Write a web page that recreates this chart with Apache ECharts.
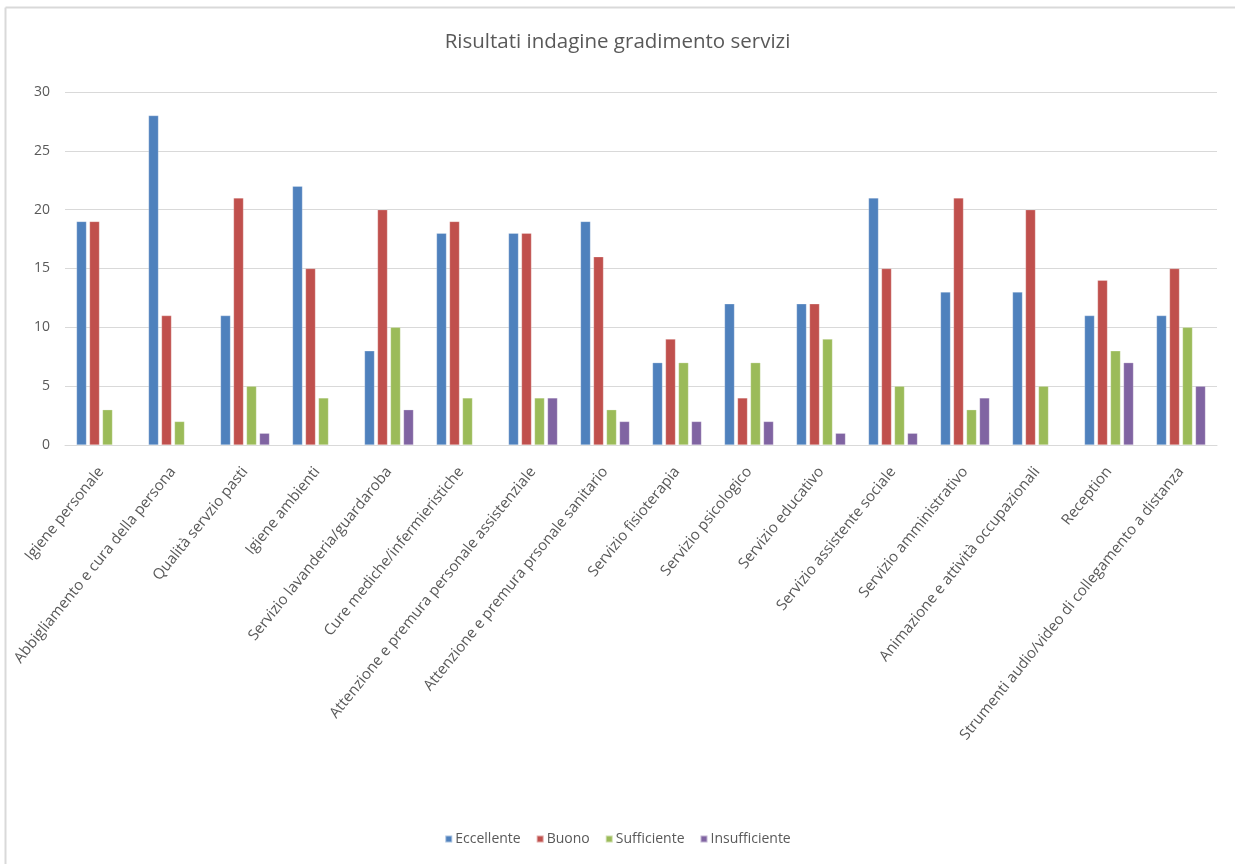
<!DOCTYPE html>
<html>
<head>
<meta charset="utf-8">
<script src="https://cdn.jsdelivr.net/npm/echarts@6/dist/echarts.min.js"></script>
<style>
html,body{margin:0;padding:0;background:#fff;}
#chart{width:1235px;height:864px;}
</style>
</head>
<body>
<div id="chart"></div>
<script>
const categories = [
  'Igiene personale',
  'Abbigliamento e cura della persona',
  'Qualità servzio pasti',
  'Igiene ambienti',
  'Servizio lavanderia/guardaroba',
  'Cure mediche/infermieristiche',
  'Attenzione e premura personale assistenziale',
  'Attenzione e premura prsonale sanitario',
  'Servizio fisioterapia',
  'Servizio psicologico',
  'Servizio educativo',
  'Servizio assistente sociale',
  'Servizio amministrativo',
  'Animazione e attività occupazionali',
  'Reception',
  'Strumenti audio/video di collegamento a distanza'
];
const eccellente    = [19, 28, 11, 22, 8, 18, 18, 19, 7, 12, 12, 21, 13, 13, 11, 11];
const buono         = [19, 11, 21, 15, 20, 19, 18, 16, 9, 4, 12, 15, 21, 20, 14, 15];
const sufficiente   = [3, 2, 5, 4, 10, 4, 4, 3, 7, 7, 9, 5, 3, 5, 8, 10];
const insufficiente = [null, null, 1, null, 3, null, 4, 2, 2, 2, 1, 1, 4, null, 7, 5];
const seriesNames = ['Eccellente', 'Buono', 'Sufficiente', 'Insufficiente'];
const colors = ['#4f81bd', '#c0504d', '#9bbb59', '#8064a2'];

const chart = echarts.init(document.getElementById('chart'), null, {renderer: 'canvas'});
const font = '"Open Sans", "Noto Sans", sans-serif';
const dataSets = [eccellente, buono, sufficiente, insufficiente];

chart.setOption({
  animation: false,
  backgroundColor: '#ffffff',
  color: colors,
  title: {
    text: 'Risultati indagine gradimento servizi',
    left: 'center',
    top: 27,
    textStyle: {fontFamily: font, fontSize: 20.5, fontWeight: 'normal', color: '#595959'}
  },
  graphic: [
    {type: 'line', shape: {x1: 5.5, y1: 7.5, x2: 1235, y2: 7.5}, style: {stroke: '#d9d9d9', lineWidth: 2}},
    {type: 'line', shape: {x1: 5.5, y1: 7.5, x2: 5.5, y2: 864}, style: {stroke: '#d9d9d9', lineWidth: 2}}
  ],
  legend: {
    bottom: 13,
    left: 'center',
    itemWidth: 7,
    itemHeight: 7,
    itemGap: 15,
    icon: 'rect',
    textStyle: {fontFamily: font, fontSize: 14, color: '#595959', padding: [0, 0, 0, -2]},
    data: seriesNames
  },
  grid: {left: 65, right: 18, top: 92, bottom: 419, containLabel: false},
  xAxis: {
    type: 'category',
    data: categories,
    axisLine: {lineStyle: {color: '#d9d9d9', width: 1}},
    axisTick: {show: false},
    axisLabel: {
      interval: 0,
      rotate: 51,
      margin: 24,
      fontFamily: font,
      fontSize: 15,
      color: '#595959'
    }
  },
  yAxis: {
    type: 'value',
    min: 0,
    max: 30,
    interval: 5,
    axisLine: {show: false},
    axisTick: {show: false},
    splitLine: {lineStyle: {color: '#d9d9d9', width: 1}},
    axisLabel: {fontFamily: font, fontSize: 14, color: '#595959', margin: 15}
  },
  series: seriesNames.map((name, i) => ({
    name: name,
    type: 'bar',
    data: dataSets[i],
    barWidth: 10,
    barGap: '30%',
    itemStyle: {color: colors[i], borderColor: 'rgba(255,255,255,0.5)', borderWidth: 0.5}
  }))
});
</script>
</body>
</html>
